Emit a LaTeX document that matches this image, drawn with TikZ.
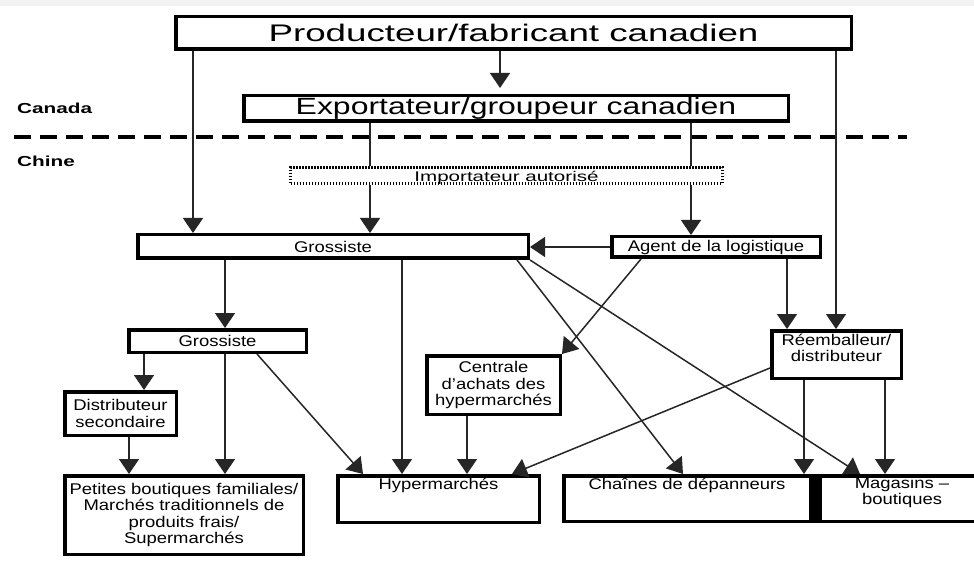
\documentclass[tikz,border=0pt]{standalone}
\usepackage{fontspec}
\usepackage{graphicx}
\usetikzlibrary{arrows.meta}
\setmainfont{Liberation Sans}
\newfontfamily\lblfont[FakeStretch=1.19]{Liberation Sans}
\newfontfamily\titleA[FakeStretch=1.53]{Liberation Sans}
\newfontfamily\titleB[FakeStretch=1.36]{Liberation Sans}
\newfontfamily\impfont[FakeStretch=1.47]{Liberation Sans}
\newfontfamily\regfont[FakeStretch=1.43]{Liberation Sans}
\begin{document}
\begin{tikzpicture}[x=1pt,y=-1pt,
  box/.style={draw=black, line width=3.5pt, fill=white, inner sep=0pt, align=center,
    font=\lblfont\fontsize{15.5}{16.3}\selectfont},
  toplbl/.style={anchor=north, inner sep=0pt, align=center,
    font=\lblfont\fontsize{15.5}{16.3}\selectfont},
  conn/.style={line width=1.5pt, draw=black!85},
  arr/.style={conn, -{Triangle[width=20pt,length=15pt]}},
  region/.style={anchor=base west, inner sep=0pt, font=\regfont\bfseries\fontsize{14.5}{16}\selectfont},
]
\useasboundingbox (0,0) rectangle (974,561);
\clip (0,0) rectangle (974,561);
\fill[white] (0,0) rectangle (974,561);
\fill[black!5] (0,0) rectangle (974,6.5);

% separator
\draw[line width=3.5pt, dash pattern=on 17pt off 9pt] (14,137) -- (907,137);
\node[region] (canada) at (17,114) {Canada};
\node[region] (chine) at (17,167) {Chine};

% boxes
\node[box, minimum width=675.5pt, minimum height=32.5pt,
  font=\titleA\fontsize{24}{26}\selectfont] (prod) at (513.5,33) {Producteur/fabricant canadien};
\node[box, minimum width=544.5pt, minimum height=25.5pt, text height=17pt, text depth=5pt,
  font=\titleB\fontsize{23.5}{25}\selectfont] (exp) at (516,108.5) {Exportateur/groupeur canadien};
\node[box, draw=black, line width=3pt, dash pattern=on 1.5pt off 1.5pt,
  minimum width=432pt, minimum height=16pt, text height=13pt, text depth=0pt,
  font=\impfont\fontsize{14}{16}\selectfont] (imp) at (506.5,175.5) {Importateur autorisé};
\node[box, minimum width=390.5pt, minimum height=23.5pt] (gros1) at (333,246.5) {Grossiste};
\node[box, minimum width=208.5pt, minimum height=20.5pt] (agent) at (716,247) {Agent de la logistique};
\node[box, minimum width=177.5pt, minimum height=22.5pt] (gros2) at (217.5,341) {Grossiste};
\node[box, minimum width=111.5pt, minimum height=43.5pt] (dist) at (120.5,413.5) {Distributeur\\secondaire};
\node[box, minimum width=133.5pt, minimum height=58.5pt] (centrale) at (493.5,385) {Centrale\\d’achats des\\hypermarchés};
\node[box, minimum width=129.5pt, minimum height=47.5pt,
  label={[toplbl, yshift=-5pt]north:Réemballeur/\\distributeur}] (reemb) at (836.5,354.5) {};
\node[box, minimum width=238.5pt, minimum height=78.5pt] (petites) at (184,515)
  {Petites boutiques familiales/\\Marchés traditionnels de\\produits frais/\\Supermarchés};
\node[box, minimum width=201.5pt, minimum height=46.5pt,
  label={[toplbl, yshift=-3.5pt]north:Hypermarchés}] (hyper) at (438.5,499) {};
\node[box, minimum width=246.5pt, minimum height=45.5pt,
  label={[toplbl, yshift=-3.5pt]north:Chaînes de dépanneurs}] (chaines) at (687,498.5) {};
\node[box, minimum width=164.5pt, minimum height=45.5pt,
  label={[toplbl, yshift=-3pt]north:Magasins –\\boutiques}] (magasins) at (902,498.5) {};
\fill[black] (chaines.north east) rectangle (magasins.south west);

% connectors
\draw[arr, shorten >=6pt] (500,0 |- prod.south) -- (500,0 |- exp.north);
\draw[arr] (193,0 |- prod.south) -- (193,0 |- gros1.north);
\draw[arr] (836,0 |- prod.south) -- (836,0 |- reemb.north);
\draw[conn] (370,0 |- exp.south) -- (370,0 |- imp.north);
\draw[conn] (691,0 |- exp.south) -- (691,0 |- imp.north);
\draw[arr] (370,0 |- imp.south) -- (370,0 |- gros1.north);
\draw[arr] (691,0 |- imp.south) -- (691,0 |- agent.north);
\draw[arr] (agent.west) -- (gros1.east |- agent.west);
\draw[arr] (225,0 |- gros1.south) -- (225,0 |- gros2.north);
\draw[arr] (402,0 |- gros1.south) -- (402,0 |- hyper.north);
\draw[arr] (517,0 |- gros1.south) -- (683,0 |- chaines.north);
\draw[arr] (gros1.south east) -- (860,0 |- magasins.north);
\draw[arr] (641,0 |- agent.south) -- (centrale.north east);
\draw[arr] (787,0 |- agent.south) -- (787,0 |- reemb.north);
\draw[arr] (144,0 |- gros2.south) -- (144,0 |- dist.north);
\draw[arr] (225,0 |- gros2.south) -- (225,0 |- petites.north);
\draw[arr] (257,0 |- gros2.south) -- (363,0 |- hyper.north);
\draw[arr] (129,0 |- dist.south) -- (129,0 |- petites.north);
\draw[arr] (467,0 |- centrale.south) -- (467,0 |- hyper.north);
\draw[arr] (reemb.west |- 0,368) -- (512,0 |- hyper.north);
\draw[arr] (804,0 |- reemb.south) -- (804,0 |- chaines.north);
\draw[arr] (885,0 |- reemb.south) -- (885,0 |- magasins.north);
\end{tikzpicture}
\end{document}
